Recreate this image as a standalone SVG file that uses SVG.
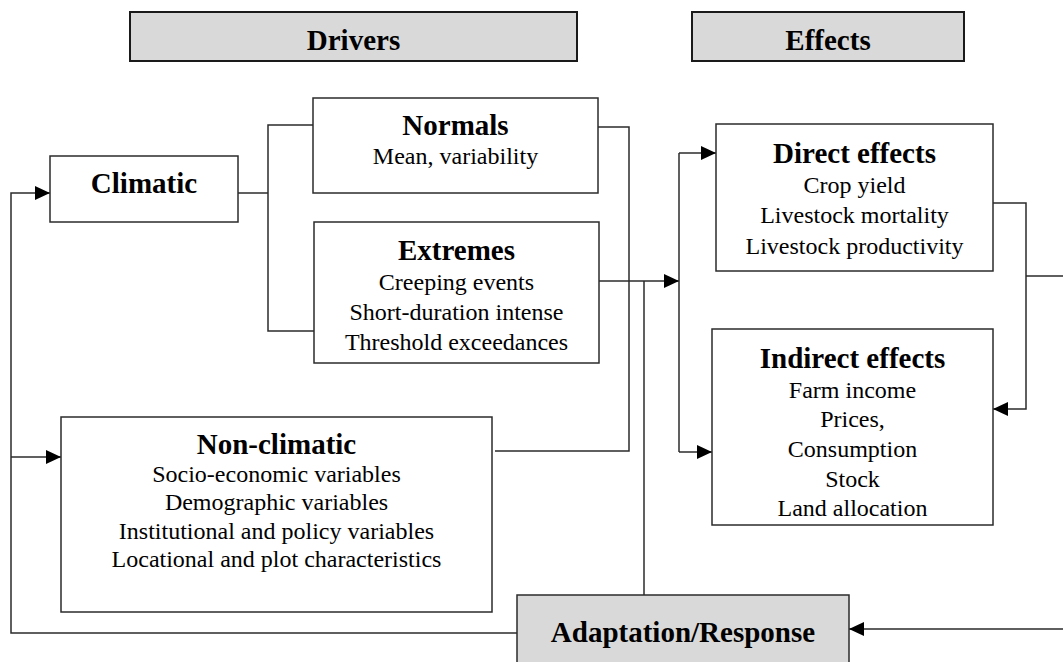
<svg xmlns="http://www.w3.org/2000/svg" width="1063" height="662" viewBox="0 0 1063 662">
  <style>
    .box { fill: #ffffff; stroke: #2b2b2b; stroke-width: 1.5; }
    .shade { fill: #d9d9d9; stroke: #2b2b2b; stroke-width: 1.5; }
    .head { fill: #d9d9d9; stroke: #1a1a1a; stroke-width: 2; }
    .title { font-family: "Liberation Serif", "Times New Roman", serif; font-weight: bold; font-size: 29px; fill: #000; text-anchor: middle; }
    .item { font-family: "Liberation Serif", "Times New Roman", serif; font-size: 24px; fill: #000; text-anchor: middle; }
    .wire { fill: none; stroke: #2b2b2b; stroke-width: 1.5; }
  </style>
  <defs>
    <marker id="arrow" markerUnits="userSpaceOnUse" markerWidth="15" markerHeight="14" refX="15" refY="7" orient="auto">
      <path d="M0,0 L15,7 L0,14 z" fill="#000"/>
    </marker>
  </defs>

  <!-- column headers -->
  <g id="header-drivers">
    <rect class="head" x="130" y="12" width="447" height="49"/>
    <text class="title" x="353.5" y="50">Drivers</text>
  </g>
  <g id="header-effects">
    <rect class="head" x="692" y="12" width="272" height="49"/>
    <text class="title" x="828" y="50">Effects</text>
  </g>

  <!-- connectors -->
  <g id="connectors">
    <path class="wire" d="M517,633 H11 V193 H50" marker-end="url(#arrow)"/>
    <path class="wire" d="M11,457 H61" marker-end="url(#arrow)"/>
    <path class="wire" d="M238,193 H268"/>
    <path class="wire" d="M313,125 H268 V331 H314"/>
    <path class="wire" d="M598,127 H629 V451 H495"/>
    <path class="wire" d="M599,281 H679" marker-end="url(#arrow)"/>
    <path class="wire" d="M644,281 V595"/>
    <path class="wire" d="M679,153 V452"/>
    <path class="wire" d="M679,153 H716" marker-end="url(#arrow)"/>
    <path class="wire" d="M679,452 H712" marker-end="url(#arrow)"/>
    <path class="wire" d="M993,203 H1026 V409 H993" marker-end="url(#arrow)"/>
    <path class="wire" d="M1026,276 H1065 V629 H849" marker-end="url(#arrow)"/>
  </g>

  <!-- drivers -->
  <g id="climatic">
    <rect class="box" x="50" y="156" width="188" height="66"/>
    <text class="title" x="144" y="193">Climatic</text>
  </g>
  <g id="normals">
    <rect class="box" x="313" y="98" width="285" height="95"/>
    <text class="title" x="455.5" y="135">Normals</text>
    <text class="item" x="455.5" y="164">Mean, variability</text>
  </g>
  <g id="extremes">
    <rect class="box" x="314" y="222" width="285" height="141"/>
    <text class="title" x="456.5" y="260">Extremes</text>
    <text class="item" x="456.5" y="290">Creeping events</text>
    <text class="item" x="456.5" y="320">Short-duration intense</text>
    <text class="item" x="456.5" y="350">Threshold exceedances</text>
  </g>
  <g id="non-climatic">
    <rect class="box" x="61" y="417" width="431" height="195"/>
    <text class="title" x="276.5" y="454">Non-climatic</text>
    <text class="item" x="276.5" y="482">Socio-economic variables</text>
    <text class="item" x="276.5" y="510">Demographic variables</text>
    <text class="item" x="276.5" y="539">Institutional and policy variables</text>
    <text class="item" x="276.5" y="567">Locational and plot characteristics</text>
  </g>

  <!-- effects -->
  <g id="direct-effects">
    <rect class="box" x="716" y="124" width="277" height="147"/>
    <text class="title" x="854.5" y="163">Direct effects</text>
    <text class="item" x="854.5" y="193">Crop yield</text>
    <text class="item" x="854.5" y="223">Livestock mortality</text>
    <text class="item" x="854.5" y="254">Livestock productivity</text>
  </g>
  <g id="indirect-effects">
    <rect class="box" x="712" y="329" width="281" height="196"/>
    <text class="title" x="852.5" y="368">Indirect effects</text>
    <text class="item" x="852.5" y="398">Farm income</text>
    <text class="item" x="852.5" y="427">Prices,</text>
    <text class="item" x="852.5" y="457">Consumption</text>
    <text class="item" x="852.5" y="487">Stock</text>
    <text class="item" x="852.5" y="516">Land allocation</text>
  </g>

  <!-- feedback -->
  <g id="adaptation">
    <rect class="shade" x="517" y="595" width="332" height="75"/>
    <text class="title" x="683" y="642">Adaptation/Response</text>
  </g>
</svg>
